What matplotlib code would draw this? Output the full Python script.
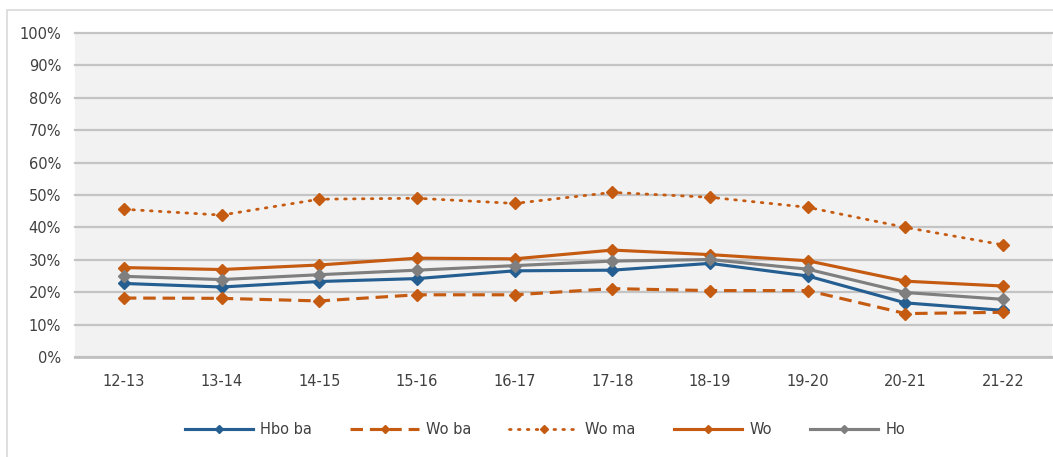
import matplotlib
matplotlib.use("Agg")
import matplotlib.pyplot as plt
from matplotlib.patches import Rectangle
from matplotlib.ticker import FuncFormatter, MultipleLocator

categories = ["12-13", "13-14", "14-15", "15-16", "16-17", "17-18", "18-19", "19-20", "20-21", "21-22"]
hbo_ba = [22.7, 21.6, 23.3, 24.2, 26.6, 26.8, 28.9, 25.0, 16.7, 14.4]
wo_ba = [18.2, 18.1, 17.3, 19.2, 19.2, 21.1, 20.5, 20.5, 13.4, 13.8]
wo_ma = [45.6, 43.8, 48.7, 49.0, 47.4, 50.8, 49.3, 46.2, 40.0, 34.6]
wo = [27.6, 27.0, 28.4, 30.5, 30.3, 33.0, 31.6, 29.7, 23.4, 21.9]
ho = [24.9, 23.9, 25.4, 26.8, 28.2, 29.6, 30.1, 27.1, 19.9, 17.8]
series_names = ["Hbo ba", "Wo ba", "Wo ma", "Wo", "Ho"]

W, H = 1053, 457
fig = plt.figure(figsize=(W / 100, H / 100), dpi=100)
fig.patch.set_facecolor("white")

# outer chart border (only top/left visible, cropped at right/bottom)
fig.patches.append(Rectangle((7 / W, -0.1), 1.2, 1.1 - 10 / H, transform=fig.transFigure,
                             fill=False, edgecolor="#D9D9D9", linewidth=1.2))

ax = fig.add_axes([75 / W, (H - 357) / H, 977 / W, 324 / H])
ax.set_facecolor("#F2F2F2")

blue = "#255E91"
orange = "#C55A11"
gray = "#7F7F7F"

x = list(range(len(categories)))
lw = 2.25
ms = 6.5
ax.plot(x, hbo_ba, color=blue, lw=lw, marker="D", ms=ms, label=series_names[0], zorder=3)
ax.plot(x, wo_ba, color=orange, lw=lw, ls=(0, (4, 2.2)), marker="D", ms=ms, label=series_names[1], zorder=3)
ax.plot(x, wo_ma, color=orange, lw=2.0, ls=(0, (0.6, 2.6)), dash_capstyle="round", marker="D", ms=ms,
        label=series_names[2], zorder=3)
ax.plot(x, wo, color=orange, lw=lw, marker="D", ms=ms, label=series_names[3], zorder=3)
ax.plot(x, ho, color=gray, lw=lw, marker="D", ms=ms, label=series_names[4], zorder=3)

ax.set_xlim(-0.5, len(categories) - 0.5)
ax.set_ylim(0, 100)
ax.yaxis.set_major_locator(MultipleLocator(10))
ax.yaxis.set_major_formatter(FuncFormatter(lambda v, p: f"{int(round(v))}%"))
ax.set_xticks(x)
ax.set_xticklabels(categories)
ax.grid(axis="y", color="#C4C4C4", lw=1.6, zorder=1)
for gl in ax.get_ygridlines():
    gl.set_clip_on(False)
ax.set_axisbelow(True)
for s in ["top", "right", "left"]:
    ax.spines[s].set_visible(False)
ax.spines["bottom"].set_color("#C0C0C0")
ax.spines["bottom"].set_linewidth(2)
ax.tick_params(axis="both", length=0, labelsize=10.5, colors="#404040")
ax.tick_params(axis="y", pad=10)
ax.tick_params(axis="x", pad=12)

leg = fig.legend(loc="center", bbox_to_anchor=(545 / W, (H - 430) / H), ncol=5, frameon=False,
                 fontsize=10.5, handlelength=4.7, columnspacing=2.6, handletextpad=0.5,
                 markerscale=0.7)
for t in leg.get_texts():
    t.set_color("#404040")

fig.savefig("out.png", dpi=100, facecolor="white")
